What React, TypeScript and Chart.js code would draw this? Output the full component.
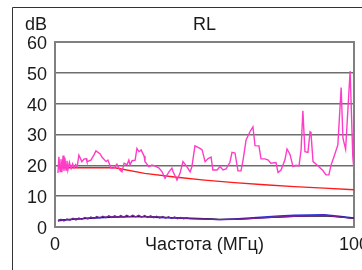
import React, { useEffect, useRef } from "react";
import { Chart, registerables } from "chart.js";

Chart.register(...registerables);

// ---- data ----
const chartTitle = "RL";
const yUnit = "dB";
const xTickValues = [0, 50, 100];
const xTickLabels = ["0", "Частота (МГц)", "100"];

const pinkFreq = [
  1.0, 1.3, 1.7, 2.0, 2.3, 2.7, 3.0, 3.3, 3.7, 4.0,
  4.3, 4.8, 5.4, 5.9, 6.4, 6.9, 7.4, 8.0, 9.0, 9.7,
  10.4, 10.7, 12.0, 13.0, 13.7, 15.1, 15.7, 17.1, 17.7, 18.7,
  19.7, 20.7, 21.7, 22.4, 23.1, 24.1, 24.7, 25.1, 25.8, 26.8,
  27.4, 28.1, 28.8, 29.8, 30.1, 31.4, 32.4, 33.4, 34.8, 35.8,
  36.8, 38.1, 39.1, 39.5, 40.8, 41.8, 42.8, 44.1, 45.2, 45.8,
  46.8, 48.5, 49.2, 50.2, 51.2, 52.2, 52.8, 54.2, 55.2, 56.2,
  57.2, 58.5, 59.2, 60.2, 61.2, 62.2, 62.9, 63.9, 65.2, 66.2,
  66.9, 68.2, 68.9, 70.2, 71.2, 72.2, 73.9, 74.6, 75.6, 76.9,
  77.6, 78.6, 79.6, 80.6, 81.6, 82.3, 82.9, 83.6, 84.6, 85.3,
  85.6, 86.3, 88.0, 89.6, 90.6, 91.6, 92.3, 93.3, 94.6, 95.7,
  96.3, 97.2, 98.7, 99.6, 100,
];
const pinkDb = [
  17.5, 22.8, 18.0, 22.0, 17.8, 23.2, 18.2, 22.5, 18.5, 21.5,
  18.5, 21.0, 19.0, 20.5, 19.2, 20.2, 19.5, 23.3, 21.2, 22.0,
  22.2, 21.2, 21.7, 23.3, 24.7, 23.7, 22.7, 21.2, 21.7, 19.1,
  19.1, 20.4, 18.5, 17.9, 20.7, 20.2, 21.7, 20.2, 21.5, 21.7,
  25.5, 24.4, 25.0, 23.0, 21.2, 19.6, 20.1, 19.8, 19.1, 17.9,
  15.8, 17.9, 19.1, 17.9, 15.2, 17.4, 21.2, 19.6, 17.9, 19.6,
  26.3, 25.5, 25.0, 21.2, 22.2, 22.7, 18.5, 18.5, 19.6, 18.5,
  18.8, 21.0, 24.2, 24.0, 18.2, 18.2, 21.7, 28.2, 30.9, 32.5,
  26.4, 26.3, 22.1, 22.1, 21.8, 20.7, 20.9, 17.7, 18.5, 21.8,
  25.3, 23.5, 19.6, 20.0, 19.8, 25.0, 37.7, 24.4, 24.2, 30.9,
  30.6, 21.2, 19.8, 18.3, 16.9, 16.9, 20.0, 22.8, 26.6, 45.2,
  28.8, 25.2, 50.6, 22.8, 18.0,
];

const limitFreq = [1, 20, 30, 40, 50, 60, 70, 80, 90, 100];
const limitDb = [19.2, 19.2, 17.4, 16.2, 15.2, 14.4, 13.7, 13.1, 12.6, 12.1];

const purpleFreq = [
  1, 2, 3, 4, 5, 6, 7, 8, 9, 10, 11, 12, 13, 14, 15, 16, 17, 18, 19, 20,
  21, 22, 23, 24, 25, 26, 27, 28, 29, 30, 31, 32, 33, 34, 35, 36, 37, 38, 39, 40,
  41, 42, 43, 44, 45, 50, 55, 60, 65, 70, 75, 80, 85, 90, 95, 100,
];
const purpleDb = [
  1.9, 2.5, 2.0, 2.6, 2.2, 2.8, 2.3, 2.9, 2.5, 3.1, 2.6, 3.2, 2.8, 3.4, 2.9, 3.5, 3.0, 3.6, 3.1, 3.6,
  3.1, 3.7, 3.2, 3.8, 3.3, 3.8, 3.3, 3.8, 3.2, 3.7, 3.1, 3.6, 3.0, 3.5, 2.9, 3.4, 2.9, 3.3, 2.8, 3.2,
  2.7, 3.1, 2.7, 3.0, 2.7, 2.6, 2.4, 2.5, 2.7, 3.0, 3.3, 3.5, 3.6, 3.8, 3.3, 2.8,
];

const smoothFreq = [1, 5, 10, 15, 20, 25, 30, 35, 40, 45, 50, 55, 60, 65, 70, 75, 80, 85, 90, 95, 100];
const blackDb = [2.2, 2.5, 2.8, 3.1, 3.3, 3.4, 3.4, 3.2, 3.0, 2.9, 2.7, 2.5, 2.5, 2.7, 3.0, 3.2, 3.4, 3.5, 3.6, 3.3, 2.8];
const blueDb = [2.0, 2.4, 2.7, 3.0, 3.2, 3.3, 3.3, 3.1, 2.9, 2.7, 2.6, 2.4, 2.6, 2.9, 3.3, 3.6, 3.8, 3.9, 4.0, 3.5, 2.9];

const toPoints = (xs: number[], ys: number[]) => xs.map((x, i) => ({ x, y: ys[i] }));

const FONT = "'Liberation Sans', Arial, sans-serif";
const FONT_SIZE = 18;

const decorPlugin = {
  id: "decor",
  beforeDatasetsDraw(chart: any) {
    const { ctx, chartArea } = chart;
    ctx.save();
    ctx.strokeStyle = "#808080";
    ctx.lineWidth = 2;
    ctx.strokeRect(chartArea.left, chartArea.top, chartArea.right - chartArea.left, chartArea.bottom - chartArea.top);
    ctx.restore();
  },
  afterDraw(chart: any) {
    const { ctx, chartArea } = chart;
    ctx.save();
    ctx.strokeStyle = "#333333";
    ctx.lineWidth = 1;
    ctx.beginPath();
    ctx.moveTo(12.5, 270);
    ctx.lineTo(12.5, 7.5);
    ctx.lineTo(362, 7.5);
    ctx.stroke();
    ctx.fillStyle = "#1a1a1a";
    ctx.font = `${FONT_SIZE}px ${FONT}`;
    ctx.textBaseline = "middle";
    ctx.textAlign = "right";
    ctx.fillText(yUnit, 47, 25);
    ctx.textAlign = "center";
    ctx.fillText(chartTitle, (chartArea.left + chartArea.right) / 2, 25);
    ctx.restore();
  },
};

export default function App() {
  const ref = useRef<HTMLCanvasElement | null>(null);
  useEffect(() => {
    if (!ref.current) return;
    const chart = new Chart(ref.current, {
      type: "line",
      data: {
        datasets: [
          { data: toPoints(pinkFreq, pinkDb), borderColor: "#ff3cc8", borderWidth: 1.4 },
          { data: toPoints(limitFreq, limitDb), borderColor: "#ff1a1a", borderWidth: 1.4 },
          { data: toPoints(purpleFreq, purpleDb), borderColor: "#7a1fa0", borderWidth: 1.4 },
          { data: toPoints(smoothFreq, blackDb), borderColor: "#111111", borderWidth: 1.2 },
          { data: toPoints(smoothFreq, blueDb), borderColor: "#2233dd", borderWidth: 1.4 },
        ] as any,
      },
      options: {
        animation: false,
        responsive: false,
        maintainAspectRatio: false,
        layout: { padding: { top: 42, right: 8, left: 0, bottom: 0 } },
        elements: { point: { radius: 0 }, line: { tension: 0 } },
        plugins: { legend: { display: false }, tooltip: { enabled: false }, title: { display: false } },
        scales: {
          x: {
            type: "linear",
            min: 0,
            max: 100,
            grid: { display: false, drawTicks: false },
            border: { display: false },
            afterBuildTicks: (scale: any) => {
              scale.ticks = xTickValues.map((v) => ({ value: v }));
            },
            afterFit: (scale: any) => {
              scale.height = 43;
              scale.paddingLeft = 0;
              scale.paddingRight = 0;
            },
            ticks: {
              autoSkip: false,
              maxRotation: 0,
              padding: 7,
              color: "#1a1a1a",
              font: { family: FONT, size: FONT_SIZE },
              callback: (v: any) => {
                const i = xTickValues.indexOf(Number(v));
                return i >= 0 ? xTickLabels[i] : "";
              },
            },
          },
          y: {
            type: "linear",
            min: 0,
            max: 60,
            grid: { color: "#6e6e6e", lineWidth: 1.5, drawTicks: false },
            border: { display: false },
            afterFit: (scale: any) => {
              scale.width = 55;
              scale.paddingTop = 0;
              scale.paddingBottom = 0;
            },
            ticks: {
              stepSize: 10,
              padding: 8,
              labelOffset: 2,
              color: "#1a1a1a",
              font: { family: FONT, size: FONT_SIZE },
            },
          },
        },
      } as any,
      plugins: [decorPlugin],
    });
    return () => chart.destroy();
  }, []);
  return (
    <canvas
      ref={ref}
      width={362}
      height={270}
      style={{ position: "fixed", left: 0, top: 0, width: 362, height: 270, background: "#fff" }}
    />
  );
}
